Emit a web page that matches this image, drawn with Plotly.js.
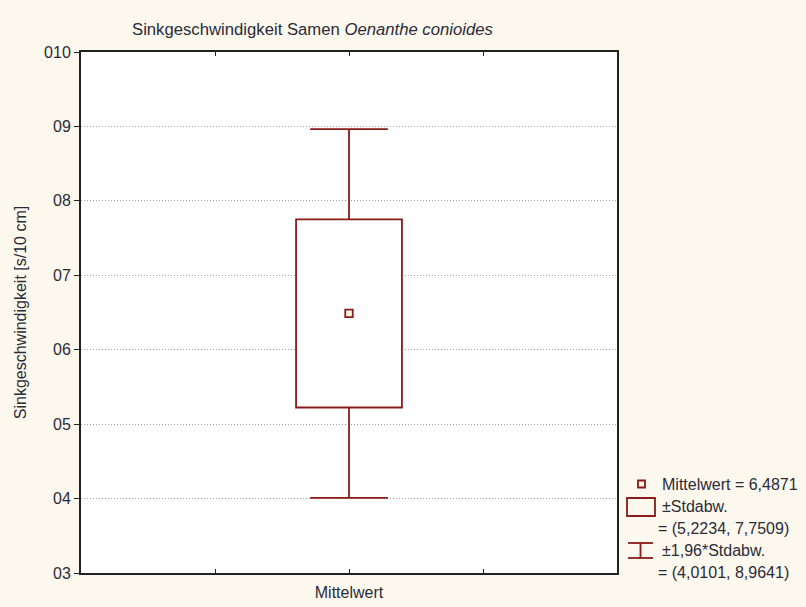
<!DOCTYPE html>
<html>
<head>
<meta charset="utf-8">
<script src="https://cdn.plot.ly/plotly-3.0.1.min.js"></script>
<style>html,body{margin:0;padding:0;background:#fcf8ee;}</style>
</head>
<body>
<div id="chart" style="width:806px;height:607px;"></div>
<script>
// Data
var categories = ["Mittelwert"];
var meanValues = [6.4871];
var sdLower = [5.2234];
var sdUpper = [7.7509];
var ciLower = [4.0101];
var ciUpper = [8.9641];
var yTickVals = [3, 4, 5, 6, 7, 8, 9, 10];
var yTickText = ["03", "04", "05", "06", "07", "08", "09", "010"];

function fmt(v) { return v.toFixed(4).replace('.', ','); }

var red = '#8b1a1a';
var font = 'Liberation Sans, Arial, sans-serif';
var txt = '#2b2b38';
var fs = 16;
var lw = 1.8;
var boxWidth = 0.79;
var capHalf = 0.29;
var xc = 0;

function lineTrace(xs, ys) {
  return {type: 'scatter', mode: 'lines', x: xs, y: ys,
    line: {color: red, width: lw}, hoverinfo: 'none', showlegend: false};
}

var traces = [
  {
    // ±Stdabw. box
    type: 'bar',
    x: [xc],
    base: sdLower,
    y: sdUpper.map(function (u, i) { return u - sdLower[i]; }),
    width: boxWidth,
    marker: {color: '#ffffff', line: {color: red, width: lw}},
    hoverinfo: 'none',
    showlegend: false
  },
  // ±1,96*Stdabw. whiskers and caps
  lineTrace([xc, xc], [sdUpper[0], ciUpper[0]]),
  lineTrace([xc, xc], [sdLower[0], ciLower[0]]),
  lineTrace([xc - capHalf, xc + capHalf], [ciUpper[0], ciUpper[0]]),
  lineTrace([xc - capHalf, xc + capHalf], [ciLower[0], ciLower[0]]),
  {
    // mean
    type: 'scatter',
    mode: 'markers',
    x: [xc],
    y: meanValues,
    marker: {symbol: 'square', size: 7.5, color: '#fff8e0', line: {color: red, width: lw}},
    hoverinfo: 'none',
    showlegend: false
  }
];

function px(x) { return (x - 81) / 536; }
function py(y) { return (573 - y) / 521; }

var shapes = [
  {type: 'rect', xref: 'paper', yref: 'paper', x0: px(627), x1: px(655), y0: py(516), y1: py(498), line: {color: red, width: lw}, fillcolor: 'rgba(0,0,0,0)'},
  {type: 'line', xref: 'paper', yref: 'paper', x0: px(628), x1: px(653), y0: py(543), y1: py(543), line: {color: red, width: lw}},
  {type: 'line', xref: 'paper', yref: 'paper', x0: px(628), x1: px(653), y0: py(558), y1: py(558), line: {color: red, width: lw}},
  {type: 'line', xref: 'paper', yref: 'paper', x0: px(640.5), x1: px(640.5), y0: py(543), y1: py(558), line: {color: red, width: lw}},
  {type: 'rect', xref: 'paper', yref: 'paper', x0: px(638), x1: px(645), y0: py(487.5), y1: py(480.5), line: {color: red, width: lw}, fillcolor: '#fff8e0'}
];

function ann(x, y, text) {
  return {xref: 'paper', yref: 'paper', x: px(x), y: py(y), xanchor: 'left', yanchor: 'middle',
    text: text, showarrow: false, font: {family: font, size: fs, color: txt}};
}

var annotations = [
  ann(660, 484, categories[0] + ' = ' + fmt(meanValues[0])),
  ann(660, 506, '±Stdabw.'),
  ann(656, 528, '= (' + fmt(sdLower[0]) + ', ' + fmt(sdUpper[0]) + ')'),
  ann(660, 550, '±1,96*Stdabw.'),
  ann(656, 572, '= (' + fmt(ciLower[0]) + ', ' + fmt(ciUpper[0]) + ')')
];

var layout = {
  width: 806,
  height: 607,
  paper_bgcolor: '#fcf8ee',
  plot_bgcolor: '#ffffff',
  margin: {l: 81, r: 189, t: 52, b: 34},
  font: {family: font, size: fs, color: txt},
  title: {
    text: 'Sinkgeschwindigkeit Samen <i>Oenanthe conioides</i>',
    x: 132 / 806, xanchor: 'left', xref: 'container',
    y: 1 - 29 / 607, yanchor: 'middle', yref: 'container',
    font: {family: font, size: 16.7, color: txt}
  },
  xaxis: {
    range: [-2, 2],
    tickvals: [-1, 0, 1],
    ticktext: ['', '', ''],
    ticks: 'inside',
    ticklen: 4,
    tickcolor: '#222',
    showgrid: false,
    zeroline: false,
    showline: true,
    mirror: 'ticks',
    linecolor: '#222',
    linewidth: 2,
    title: {text: categories[0], standoff: 10, font: {family: font, size: fs, color: txt}},
    automargin: false,
    fixedrange: true
  },
  yaxis: {
    range: [3, 10],
    tickvals: yTickVals,
    ticktext: yTickText,
    ticks: 'outside',
    ticklen: 5,
    tickcolor: '#222',
    tickfont: {family: font, size: fs, color: txt},
    showgrid: true,
    gridcolor: '#a0a0a0',
    griddash: '1px,2px',
    gridwidth: 1,
    zeroline: false,
    showline: true,
    mirror: true,
    linecolor: '#222',
    linewidth: 2,
    title: {text: 'Sinkgeschwindigkeit [s/10 cm]', standoff: 13, font: {family: font, size: fs, color: txt}},
    automargin: false,
    fixedrange: true
  },
  shapes: shapes,
  annotations: annotations,
  showlegend: false
};

Plotly.newPlot('chart', traces, layout, {displayModeBar: false, staticPlot: true});
</script>
</body>
</html>
